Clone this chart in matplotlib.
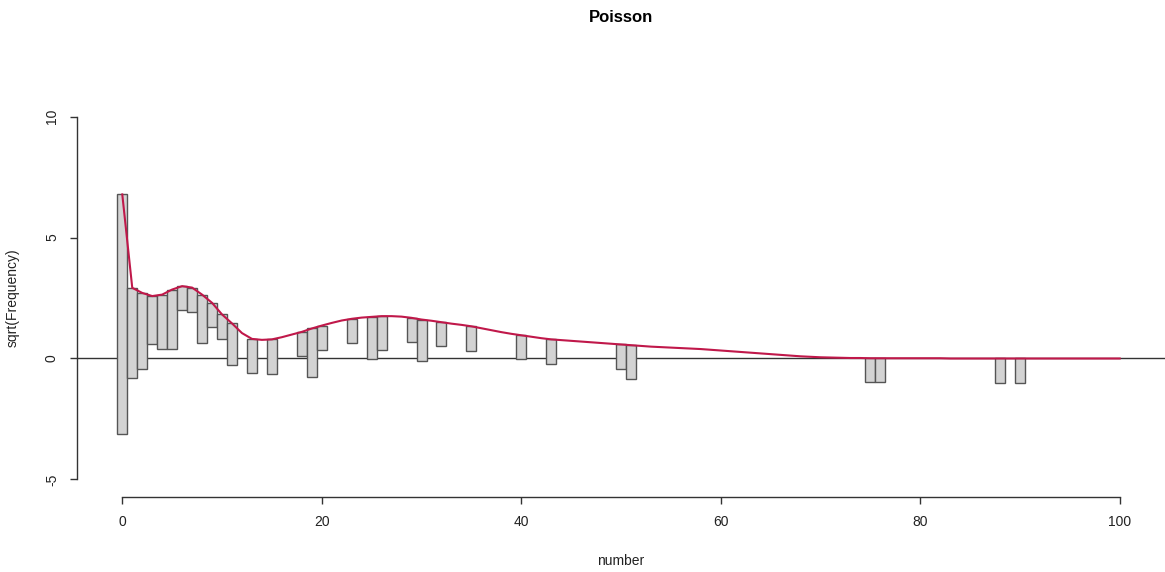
import numpy as np
import matplotlib
matplotlib.use("Agg")
import matplotlib.pyplot as plt

plt.rcParams['font.family'] = ['Liberation Sans', 'DejaVu Sans']
plt.rcParams['axes.unicode_minus'] = False

# observed counts (non-zero only)
obs_x = [0, 1, 2, 3, 4, 5, 6, 7, 8, 9, 10, 11, 13, 15, 18, 19, 20, 23, 25, 26,
         29, 30, 32, 35, 40, 43, 50, 51, 75, 76, 88, 90]
obs_n = [98, 14, 10, 4, 5, 6, 1, 1, 4, 1, 1, 3, 2, 2, 1, 4, 1, 1, 3, 2,
         1, 3, 1, 1, 1, 1, 1, 2, 1, 1, 1, 1]

# sqrt of fitted frequencies for number = 0..100
fit_x = list(range(0, 101))
fit_sqrt = [6.78, 2.92, 2.71, 2.58, 2.64, 2.85, 2.99, 2.93, 2.64, 2.30,
            1.82, 1.45, 1.05, 0.81, 0.77, 0.79, 0.88, 0.99, 1.10, 1.24,
            1.36, 1.47, 1.57, 1.64, 1.69, 1.72, 1.75, 1.75, 1.73, 1.68,
            1.61, 1.56, 1.50, 1.44, 1.39, 1.33, 1.25, 1.17, 1.09, 1.02,
            0.96, 0.90, 0.84, 0.79, 0.76, 0.73, 0.70, 0.67, 0.64, 0.61,
            0.58, 0.55, 0.52, 0.49, 0.47, 0.45, 0.43, 0.41, 0.39, 0.36,
            0.33, 0.30, 0.27, 0.24, 0.21, 0.18, 0.15, 0.12, 0.09, 0.07,
            0.05, 0.04, 0.03, 0.02, 0.02, 0.01, 0.01, 0.01, 0.01, 0.01,
            0.01, 0.01, 0.01, 0.0, 0.0, 0.0, 0.0, 0.0, 0.0, 0.0,
            0.0, 0.0, 0.0, 0.0, 0.0, 0.0, 0.0, 0.0, 0.0, 0.0, 0.0]

W, H = 1165, 572
fig = plt.figure(figsize=(W / 100, H / 100), dpi=100)
left, right, top, bottom = 77, 1165, 102, 494
ax = fig.add_axes([left / W, 1 - bottom / H, (right - left) / W, (bottom - top) / H])

fit = dict(zip(fit_x, fit_sqrt))
heights = np.sqrt(obs_n)
bottoms = np.array([fit[x] for x in obs_x]) - heights

ax.bar(obs_x, heights, bottom=bottoms, width=1.0, color='#d3d3d3',
       edgecolor='#555555', linewidth=1.0, zorder=2)
ax.axhline(0, color='#333333', linewidth=1.0, zorder=1)
ax.plot(fit_x, fit_sqrt, color='#C0184A', linewidth=1.5, zorder=3)

ax.set_xlim(-4.54, 104.54)
ax.set_ylim(-5.6, 10.6)

for s in ['top', 'right']:
    ax.spines[s].set_visible(False)
ax.spines['left'].set_bounds(-5, 10)
ax.spines['bottom'].set_bounds(0, 100)
ax.spines['bottom'].set_position(('outward', 2))
for s in ['left', 'bottom']:
    ax.spines[s].set_color('#333333')
    ax.spines[s].set_linewidth(1.0)

ax.set_xticks([0, 20, 40, 60, 80, 100])
ax.set_yticks([-5, 0, 5, 10])
ax.tick_params(axis='both', length=5, width=1.0, color='#333333',
               labelsize=10, labelcolor='#222222', pad=8)
for lab in ax.get_yticklabels():
    lab.set_rotation(90)
    lab.set_va('center')

ax.set_xlabel('number', fontsize=10, color='#222222', labelpad=18)
ax.set_ylabel('sqrt(Frequency)', fontsize=10, color='#222222', labelpad=18)
fig.text(621 / W, 1 - 17 / H, 'Poisson', ha='center', va='center',
         fontsize=12, fontweight='bold')

fig.savefig('out.png', dpi=100)
